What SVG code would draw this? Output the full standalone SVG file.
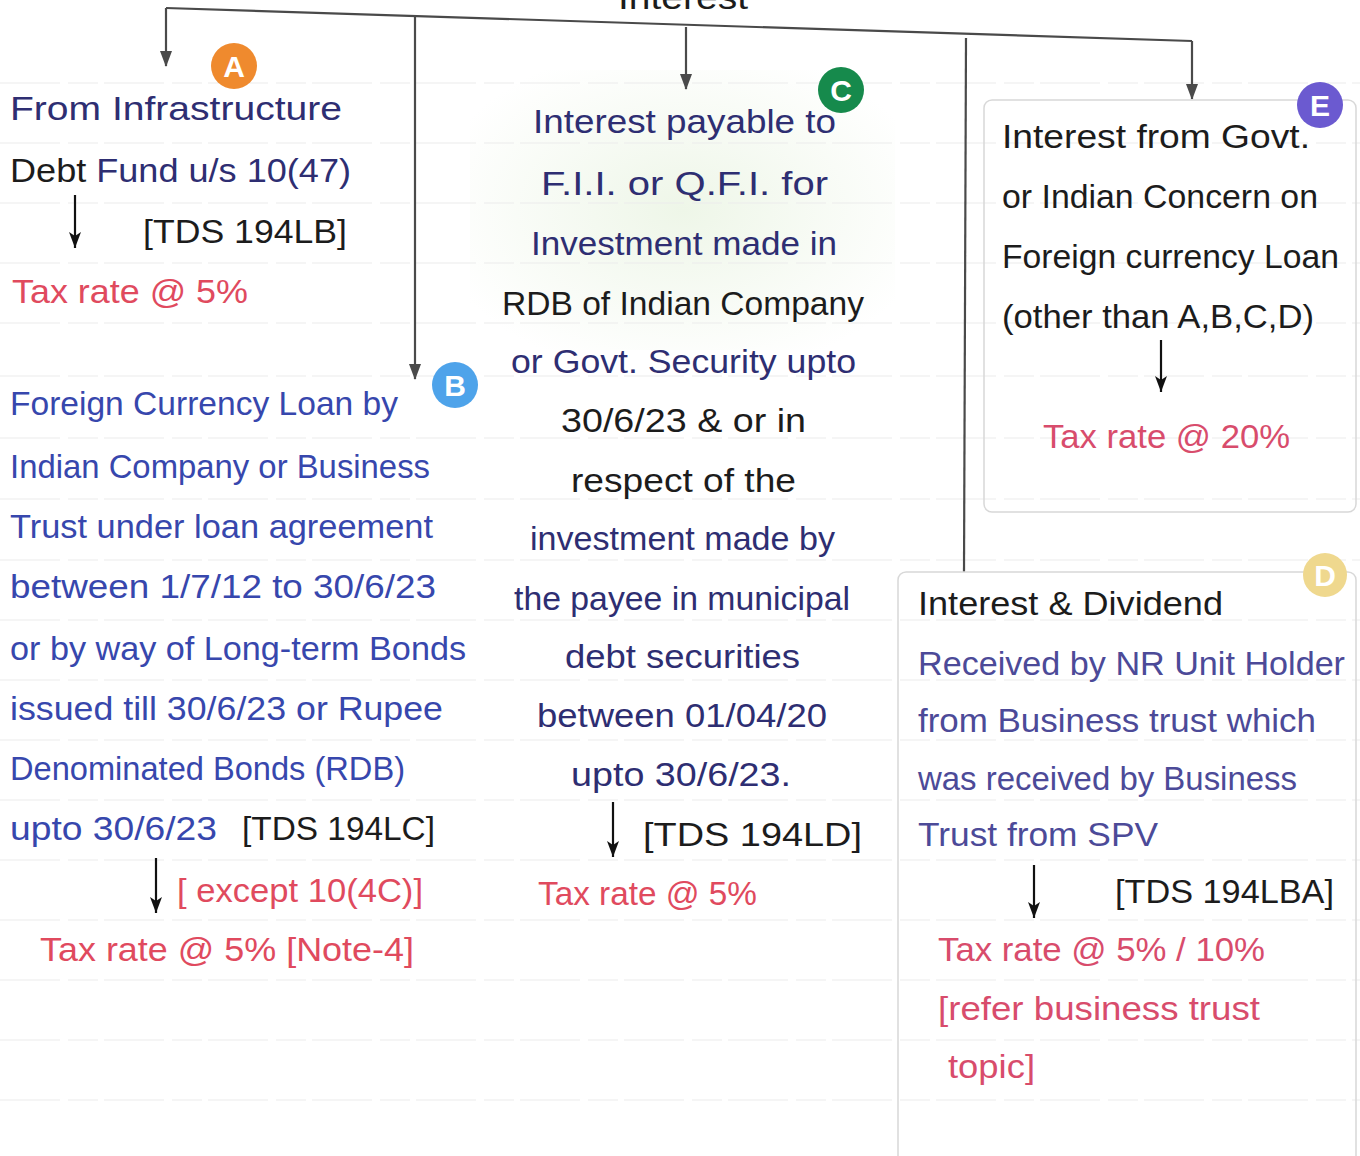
<svg xmlns="http://www.w3.org/2000/svg" width="1360" height="1156" viewBox="0 0 1360 1156">
<defs>
<style>
.t{font-family:"Liberation Sans",Arial,sans-serif;font-size:34px;}
.navy{fill:#2e2e72;}
.blue{fill:#3747ad;}
.blk{fill:#1c1c1c;}
.red{fill:#e04a5e;}
.pink{fill:#d84c6c;}
.pur{fill:#4c4a98;}
.conn{stroke:#4a4a4a;stroke-width:2.2;fill:none;}
.inner{stroke:#111;stroke-width:2.2;fill:none;}
.rule{stroke:#ececec;stroke-width:1.2;stroke-dasharray:60 8 30 6;}
.badge-t{font-family:"Liberation Sans",Arial,sans-serif;font-size:30px;font-weight:bold;fill:#fff;text-anchor:middle;}
.box{fill:none;stroke:#d8d8d8;stroke-width:1.5;}
</style>
<radialGradient id="tint" cx="0.5" cy="0.5" r="0.6">
<stop offset="0" stop-color="#eef6e8" stop-opacity="1"/>
<stop offset="1" stop-color="#eef6e8" stop-opacity="0"/>
</radialGradient>
<marker id="ah" viewBox="0 0 12 16" refX="6" refY="15" markerWidth="12" markerHeight="16" markerUnits="userSpaceOnUse">
<path d="M0,0 L12,0 L6,16 Z" fill="#4a4a4a"/>
</marker>
<marker id="ahk" viewBox="0 0 12 16" refX="6" refY="16" markerWidth="12" markerHeight="16" markerUnits="userSpaceOnUse">
<path d="M0,0 L6,4 L12,0 L6,16 Z" fill="#111"/>
</marker>
</defs>
<rect width="1360" height="1156" fill="#ffffff"/>
<g id="paper">
<rect x="470" y="70" width="425" height="280" fill="url(#tint)"/>
<g class="rule">
<line x1="0" y1="83" x2="1360" y2="83"/>
<line x1="0" y1="143" x2="1360" y2="143"/>
<line x1="0" y1="203" x2="1360" y2="203"/>
<line x1="0" y1="263" x2="1360" y2="263"/>
<line x1="0" y1="323" x2="1360" y2="323"/>
<line x1="0" y1="376" x2="1360" y2="376"/>
<line x1="0" y1="438" x2="1360" y2="438"/>
<line x1="0" y1="499" x2="1360" y2="499"/>
<line x1="0" y1="560" x2="1360" y2="560"/>
<line x1="0" y1="620" x2="1360" y2="620"/>
<line x1="0" y1="680" x2="1360" y2="680"/>
<line x1="0" y1="740" x2="1360" y2="740"/>
<line x1="0" y1="800" x2="1360" y2="800"/>
<line x1="0" y1="860" x2="1360" y2="860"/>
<line x1="0" y1="920" x2="1360" y2="920"/>
<line x1="0" y1="980" x2="1360" y2="980"/>
<line x1="0" y1="1040" x2="1360" y2="1040"/>
<line x1="0" y1="1100" x2="1360" y2="1100"/>
</g>
</g>
<g id="connectors">
<line class="conn" x1="166" y1="8" x2="1192" y2="41"/>
<line class="conn" x1="166" y1="8" x2="166" y2="66" marker-end="url(#ah)"/>
<line class="conn" x1="415" y1="16" x2="415" y2="379" marker-end="url(#ah)"/>
<line class="conn" x1="686" y1="27" x2="686" y2="89" marker-end="url(#ah)"/>
<line class="conn" x1="966" y1="38" x2="964" y2="572"/>
<line class="conn" x1="1192" y1="41" x2="1192" y2="99" marker-end="url(#ah)"/>
<line class="inner" x1="75" y1="195" x2="75" y2="248" marker-end="url(#ahk)"/>
<line class="inner" x1="156" y1="858" x2="156" y2="913" marker-end="url(#ahk)"/>
<line class="inner" x1="613" y1="802" x2="613" y2="857" marker-end="url(#ahk)"/>
<line class="inner" x1="1161" y1="340" x2="1161" y2="392" marker-end="url(#ahk)"/>
<line class="inner" x1="1034" y1="865" x2="1034" y2="918" marker-end="url(#ahk)"/>
</g>
<g id="node-interest">
<text class="t blk" x="683" y="9" text-anchor="middle" textLength="130" lengthAdjust="spacingAndGlyphs">Interest</text>
</g>
<g id="node-A">
<circle cx="234" cy="66" r="23" fill="#ef8a2e"/>
<text class="badge-t" x="234" y="77">A</text>
<text class="t navy" x="10" y="120" textLength="332" lengthAdjust="spacingAndGlyphs">From Infrastructure</text>
<text class="t navy" x="10" y="182" textLength="341" lengthAdjust="spacingAndGlyphs"><tspan class="blk">Debt</tspan> Fund u/s 10(47)</text>
<text class="t blk" x="143" y="243" textLength="204" lengthAdjust="spacingAndGlyphs">[TDS 194LB]</text>
<text class="t red" x="12" y="303" textLength="236" lengthAdjust="spacingAndGlyphs">Tax rate @ 5%</text>
</g>
<g id="node-B">
<circle cx="455" cy="385" r="23" fill="#4ea3ea"/>
<text class="badge-t" x="455" y="396">B</text>
<text class="t blue" x="10" y="415" textLength="388" lengthAdjust="spacingAndGlyphs">Foreign Currency Loan by</text>
<text class="t blue" x="10" y="478" textLength="420" lengthAdjust="spacingAndGlyphs">Indian Company or Business</text>
<text class="t blue" x="10" y="538" textLength="423" lengthAdjust="spacingAndGlyphs">Trust under loan agreement</text>
<text class="t blue" x="10" y="598" textLength="426" lengthAdjust="spacingAndGlyphs">between 1/7/12 to 30/6/23</text>
<text class="t blue" x="10" y="660" textLength="456" lengthAdjust="spacingAndGlyphs">or by way of Long-term Bonds</text>
<text class="t blue" x="10" y="720" textLength="433" lengthAdjust="spacingAndGlyphs">issued till 30/6/23 or Rupee</text>
<text class="t blue" x="10" y="780" textLength="395" lengthAdjust="spacingAndGlyphs">Denominated Bonds (RDB)</text>
<text class="t blue" x="10" y="840" textLength="207" lengthAdjust="spacingAndGlyphs">upto 30/6/23</text>
<text class="t blk" x="242" y="840" textLength="193" lengthAdjust="spacingAndGlyphs">[TDS 194LC]</text>
<text class="t red" x="177" y="902" textLength="246" lengthAdjust="spacingAndGlyphs">[ except 10(4C)]</text>
<text class="t red" x="40" y="961" textLength="374" lengthAdjust="spacingAndGlyphs">Tax rate @ 5% [Note-4]</text>
</g>
<g id="node-C">
<circle cx="841" cy="90" r="23" fill="#168a4c"/>
<text class="badge-t" x="841" y="101">C</text>
<text class="t navy" x="533" y="133" textLength="303" lengthAdjust="spacingAndGlyphs">Interest payable to</text>
<text class="t navy" x="541" y="195" textLength="287" lengthAdjust="spacingAndGlyphs">F.I.I. or Q.F.I. for</text>
<text class="t navy" x="531" y="255" textLength="306" lengthAdjust="spacingAndGlyphs">Investment made in</text>
<text class="t blk" x="502" y="315" textLength="362" lengthAdjust="spacingAndGlyphs">RDB of Indian Company</text>
<text class="t navy" x="511" y="373" textLength="345" lengthAdjust="spacingAndGlyphs">or Govt. Security upto</text>
<text class="t blk" x="561" y="432" textLength="245" lengthAdjust="spacingAndGlyphs">30/6/23 &amp; or in</text>
<text class="t blk" x="571" y="492" textLength="225" lengthAdjust="spacingAndGlyphs">respect of the</text>
<text class="t navy" x="530" y="550" textLength="305" lengthAdjust="spacingAndGlyphs">investment made by</text>
<text class="t navy" x="514" y="610" textLength="336" lengthAdjust="spacingAndGlyphs">the payee in municipal</text>
<text class="t navy" x="565" y="668" textLength="235" lengthAdjust="spacingAndGlyphs">debt securities</text>
<text class="t navy" x="537" y="727" textLength="290" lengthAdjust="spacingAndGlyphs">between 01/04/20</text>
<text class="t navy" x="571" y="786" textLength="220" lengthAdjust="spacingAndGlyphs">upto 30/6/23.</text>
<text class="t blk" x="643" y="846" textLength="219" lengthAdjust="spacingAndGlyphs">[TDS  194LD]</text>
<text class="t red" x="538" y="905" textLength="219" lengthAdjust="spacingAndGlyphs">Tax rate @ 5%</text>
</g>
<g id="node-E">
<rect class="box" x="984" y="100" width="372" height="412" rx="8"/>
<circle cx="1320" cy="105" r="23" fill="#6b5ad0"/>
<text class="badge-t" x="1320" y="116">E</text>
<text class="t blk" x="1002" y="148" textLength="308" lengthAdjust="spacingAndGlyphs">Interest from Govt.</text>
<text class="t blk" x="1002" y="208" textLength="316" lengthAdjust="spacingAndGlyphs">or Indian Concern on</text>
<text class="t blk" x="1002" y="268" textLength="337" lengthAdjust="spacingAndGlyphs">Foreign currency Loan</text>
<text class="t blk" x="1002" y="328" textLength="312" lengthAdjust="spacingAndGlyphs">(other than A,B,C,D)</text>
<text class="t pink" x="1043" y="448" textLength="247" lengthAdjust="spacingAndGlyphs">Tax rate @ 20%</text>
</g>
<g id="node-D">
<rect class="box" x="898" y="572" width="458" height="600" rx="8"/>
<circle cx="1325" cy="575" r="22" fill="#efd88e"/>
<text class="badge-t" x="1325" y="586">D</text>
<text class="t blk" x="918" y="615" textLength="305" lengthAdjust="spacingAndGlyphs">Interest &amp; Dividend</text>
<text class="t pur" x="918" y="675" textLength="427" lengthAdjust="spacingAndGlyphs">Received by NR Unit Holder</text>
<text class="t pur" x="918" y="732" textLength="398" lengthAdjust="spacingAndGlyphs">from Business trust which</text>
<text class="t pur" x="918" y="790" textLength="379" lengthAdjust="spacingAndGlyphs">was received by Business</text>
<text class="t pur" x="918" y="846" textLength="240" lengthAdjust="spacingAndGlyphs">Trust from SPV</text>
<text class="t blk" x="1115" y="903" textLength="219" lengthAdjust="spacingAndGlyphs">[TDS 194LBA]</text>
<text class="t pink" x="938" y="961" textLength="327" lengthAdjust="spacingAndGlyphs">Tax rate @ 5% / 10%</text>
<text class="t pink" x="938" y="1020" textLength="322" lengthAdjust="spacingAndGlyphs">[refer business trust</text>
<text class="t pink" x="948" y="1078" textLength="87" lengthAdjust="spacingAndGlyphs">topic]</text>
</g>
</svg>
